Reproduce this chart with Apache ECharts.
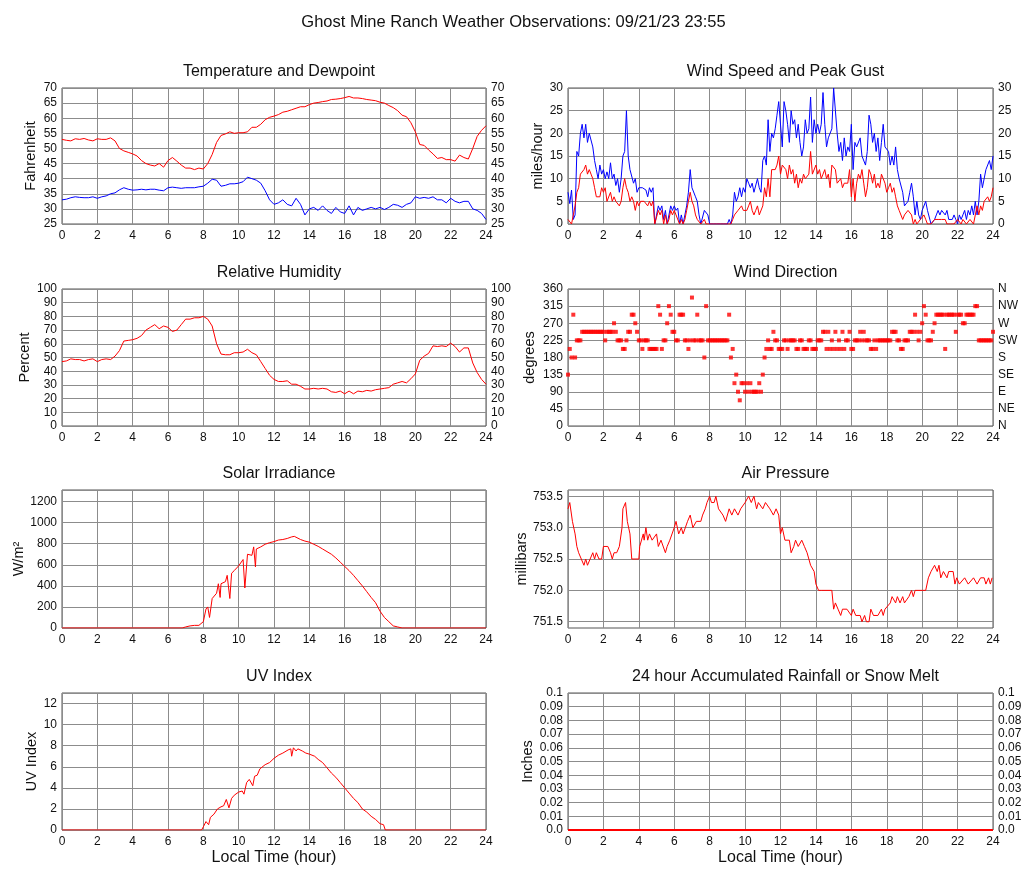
<!DOCTYPE html>
<html><head><meta charset="utf-8">
<script src="https://cdn.jsdelivr.net/npm/echarts@6/dist/echarts.min.js"></script>
<style>html,body{margin:0;padding:0;background:#fff}#c{width:1027px;height:878px}</style>
</head><body><div id="c"></div>
<script>
// ---- data ----
const hourTicks = [0,2,4,6,8,10,12,14,16,18,20,22,24];
const compassLabels = ['N','NE','E','SE','S','SW','W','NW','N'];
// 15-minute samples (hour 0.00 .. 24.00)
const temperature = [
 53,52.7,52.5,53.2, 53,53.3,52.8,52.5, 53.2,53,53,53.5, 52.5,50,49.2,48.7,
 48.2,47.5,46,45, 44.5,44.2,45,43.8, 46,47,45.8,44.5, 43.5,43.5,43,43.5,
 43.2,45,48,52, 54.3,54.8,55.5,55, 55.2,55.2,55.5,57, 57,58,59.5,60.3,
 60.7,61.2,62,62.3, 62.8,63.3,63.8,63.8, 64.5,65,65.2,65.5, 65.7,66.2,66.3,66.5,
 66.8,67.2,66.7,66.7, 66.5,66.2,66,65.8, 65.3,65,64.2,63.5, 62.5,61,60.5,58.5,
 55.5,51.3,51,49.5, 48.2,46.7,47,46.3, 46.3,45.8,47.8,47, 46.5,50,54,56, 57.5];
const dewpoint = [
 33,33.2,33.7,34, 33.8,33.7,33.7,34, 33.5,34,34.3,35, 35.3,36.3,37,36.5,
 36.2,36.3,36.5,36.3, 36.5,36.5,36.2,36, 37,37.2,37,36.8, 37,37,37,37.3,
 37.5,38.5,39.8,39.5, 37.5,37.8,38.3,38.3, 38.5,39,40.5,40, 39.5,38.5,36,33,
 31.5,32,33,31.5, 31,33.5,31.5,28, 30,30.5,29.5,31, 29.5,28.5,30.5,29,
 28.5,31,28,30.5, 29.5,30,30.5,30, 30.5,29.8,30.5,31.5, 31.2,30.5,31.5,32,
 34,33.5,33.8,33.5, 34,33,33,32, 33.5,32.5,32,32.5, 32.5,30,29.5,28.5, 26.5];
const humidity = [
 47,47.5,49,48.5, 48.5,47.5,48.5,49, 47,48.5,49,48.5, 51,55,62,62.5,
 63,64,66,70, 72,74,71,73, 72,69,70,74, 78,78,79,79,
 80,78,73,60, 52.5,52,52,53.5, 53.5,54,56,53.5, 52,47,42,37,
 34,32.5,32.5,33, 30.5,30.5,29,27, 27,27.5,27,27.5, 27,25,24.5,25.5,
 23.5,25.5,23.5,25.5, 25,26,25.5,26.5, 27,27.5,28,30.5, 31.5,32.5,31.5,34.5,
 38,48,51,53, 58.5,58,58.5,58, 60.5,58,54,57, 57,46,39,34, 30.5];
// 6-minute samples (hour 0.0 .. 24.0), one row per hour
const windSpeed = [
 1,1,0,0,4,7,8,11,11,12,
 13,11,12,11,10,8,6,6,6,8,
 7,8,5,5,7,5,6,5,5,4,
 5,8,10,8,7,5,6,5,3,5,
 4,5,5,5,5,4,5,4,5,0,
 0,3,2,3,0,2,0,1,3,2,
 3,2,2,0,1,0,1,3,5,7,
 5,4,2,1,1,0,0,1,0,0,
 0,0,0,0,0,0,0,0,0,0,
 0,0,0,1,2,2,3,3,4,3,
 3,3,4,5,3,2,3,4,2,2,
 4,8,6,10,6,12,12,12,13,15,
 11,13,13,12,10,13,11,12,9,11,
 8,10,9,11,10,10,11,16,11,11,
 13,11,12,10,11,12,10,11,8,13,
 13,12,9,9,10,8,9,9,9,12,
 6,10,5,9,11,10,12,9,6,8,
 12,11,9,11,8,9,8,11,10,9,
 7,8,9,7,8,6,4,3,3,1,
 2,2,3,3,2,0,1,0,0,1,
 1,2,1,0,0,0,0,1,1,1,
 1,1,1,1,0,0,0,0,0,0,
 1,1,0,1,1,0,0,1,1,0,
 0,4,2,4,3,5,5,6,5,6,
 8];
const windGust = [
 7,4.5,7.5,1,2,16,15,20,22,19,
 22,18,20,20,17,14,12,10,13,11,
 12,10,11.5,10,13.5,10,11,8.5,10,7,
 10,15,16,25,15,12,12,9,10,7,
 8,8,8,8,7.5,6,8,7,8,0,
 0,4,3,4,1,3,0,2,4,3,
 4,3,3.5,0,2,0,2,4,7,12,
 8,8,6,5,2,0,0,3,3,2,
 0,0,0,0,0,0,0,0,0,0,
 0,1,0,2,7,5,6,8,6,8,
 7,10,9,8,9,7,7,10,8,7,
 14,15,13,23,16,20,19,21,24,27,
 27,17,27,25,22,18,25,22,23,19,
 22,18,15,17,23,20,21,28,18,23,
 20,22,20,22,29,22,17,19,19,21,
 30,30,20,16,18,14,19,15,17,16,
 22,12,18,17,17,19,15,15,13,16,
 24,22,18,20,16,19,14,18,22,17,
 17,16,13,15,13,17,12,10,10,7,
 4,4,5,7,9,6,2,5,2,1,
 3,3,5,3,3,0,0,1,2,3,
 2,3,3,2,3,1,1,1,2,1,
 0,2,1,2,3,1,3,2,4,2,
 5,2,5,11,8,8,12,12,14,12,
 15];
const windDirection = [
 135,202.5,180,292.5,180,225,225,225,247.5,247.5,
 247.5,247.5,247.5,247.5,247.5,247.5,247.5,247.5,247.5,247.5,
 247.5,225,247.5,247.5,247.5,247.5,270,247.5,225,225,
 225,202.5,202.5,225,247.5,247.5,292.5,292.5,270,247.5,
 225,225,202.5,225,225,225,202.5,202.5,202.5,202.5,
 202.5,315,292.5,202.5,225,225,270,315,292.5,247.5,
 247.5,225,225,292.5,292.5,292.5,225,225,202.5,225,
 337.5,225,225,292.5,225,225,225,180,315,225,
 225,225,225,225,225,225,225,225,225,225,
 225,292.5,180,202.5,112.5,135,90,67.5,112.5,112.5,
 90,112.5,90,112.5,90,90,90,90,112.5,90,
 135,180,202.5,225,202.5,202.5,247.5,225,225,202.5,
 202.5,202.5,225,225,202.5,225,225,225,225,202.5,
 202.5,225,225,202.5,202.5,202.5,225,225,202.5,202.5,
 202.5,225,225,225,247.5,247.5,202.5,247.5,202.5,225,
 202.5,247.5,202.5,225,202.5,247.5,202.5,225,225,247.5,
 202.5,202.5,225,225,225,247.5,225,247.5,225,225,
 225,202.5,202.5,225,202.5,225,225,225,225,225,
 225,225,225,247.5,247.5,247.5,225,225,202.5,202.5,
 225,225,225,247.5,247.5,247.5,292.5,247.5,225,247.5,
 270,315,292.5,225,225,225,247.5,270,292.5,292.5,
 292.5,292.5,292.5,202.5,292.5,292.5,292.5,292.5,292.5,247.5,
 292.5,292.5,292.5,270,270,292.5,292.5,292.5,292.5,292.5,
 315,315,225,225,225,225,225,225,225,225,
 247.5];
// irregular readings: [hour, value]
const solarReadings = [[0,0],[6.8,0],[7,10],[7.25,20],[7.5,25],[7.75,25],[8,60],[8.15,180],[8.25,200],[8.35,100],
 [8.5,280],[8.75,330],[8.85,420],[8.95,290],[9,420],[9.25,440],[9.35,500],[9.5,280],[9.6,520],[9.75,545],
 [10,590],[10.25,650],[10.35,380],[10.5,700],[10.75,690],[10.85,770],[10.95,580],[11,750],[11.25,770],[11.5,795],
 [11.75,810],[12,820],[12.25,835],[12.5,840],[12.75,850],[13,865],[13.15,870],[13.5,840],[13.75,825],[14,815],
 [14.25,795],[14.5,775],[14.75,750],[15,725],[15.25,700],[15.5,665],[15.75,625],[16,585],[16.25,545],[16.5,500],
 [16.75,450],[17,400],[17.25,345],[17.5,290],[17.75,240],[18,160],[18.25,100],[18.5,60],[18.75,20],[19,10],[19.25,0],[24,0]];
const uvReadings = [[0,0],[7.9,0],[8,0.3],[8.15,0.8],[8.25,0.8],[8.3,0.5],[8.4,1.2],[8.6,1.5],[8.8,2],[9,2.2],
 [9.15,2.3],[9.3,2.9],[9.45,2.1],[9.6,3],[9.75,3.3],[10,3.6],[10.2,3.7],[10.3,3.4],[10.45,4.5],[10.6,4.8],
 [10.7,4.9],[10.8,4.2],[10.9,5.1],[11.05,5.2],[11.2,5.8],[11.5,6.2],[11.75,6.4],[12,6.8],[12.25,7.1],[12.5,7.3],
 [12.8,7.6],[12.95,7.7],[13,7.0],[13.1,7.8],[13.25,7.5],[13.35,7.7],[13.6,7.5],[13.8,7.3],[14,7.2],[14.3,7.0],
 [14.5,6.7],[14.75,6.4],[15,5.9],[15.25,5.4],[15.5,5.0],[15.75,4.5],[16,4.0],[16.25,3.5],[16.5,3.0],[16.75,2.6],
 [17,2.0],[17.25,1.7],[17.5,1.3],[17.75,1.0],[18,0.6],[18.2,0.5],[18.3,0],[24,0]];
const pressureReadings = [[0,753.3],[0.1,753.4],[0.25,753.1],[0.4,752.9],[0.5,752.7],[0.6,752.6],[0.75,752.5],[0.9,752.4],[1,752.5],[1.1,752.4],
 [1.25,752.5],[1.4,752.6],[1.5,752.5],[1.6,752.6],[1.75,752.5],[1.9,752.5],[2,752.7],[2.25,752.7],[2.4,752.6],[2.5,752.5],
 [2.6,752.6],[2.75,752.6],[2.9,752.7],[3.05,753.0],[3.1,753.3],[3.25,753.4],[3.35,753.1],[3.5,752.9],[3.6,752.5],[4,752.5],
 [4.05,752.7],[4.25,752.9],[4.3,752.8],[4.4,753.0],[4.5,752.8],[4.6,752.9],[4.75,752.8],[5,752.9],[5.1,752.7],[5.25,752.8],
 [5.5,752.6],[5.6,752.7],[5.75,752.8],[6,753.0],[6.1,753.1],[6.25,752.9],[6.4,753.0],[6.5,752.9],[6.75,753.1],[6.9,753.2],
 [7.05,753.0],[7.25,753.1],[7.5,753.1],[7.6,753.2],[7.75,753.3],[7.85,753.4],[8,753.5],[8.1,753.4],[8.25,753.4],[8.35,753.5],
 [8.5,753.3],[8.75,753.2],[8.9,753.1],[9.1,753.3],[9.25,753.2],[9.4,753.3],[9.6,753.2],[9.75,753.3],[10,753.4],[10.2,753.5],
 [10.35,753.4],[10.5,753.5],[10.65,753.3],[10.75,753.4],[11,753.3],[11.15,753.4],[11.4,753.3],[11.6,753.2],[11.75,753.3],[11.9,753.2],
 [12,752.9],[12.1,753.0],[12.25,752.8],[12.5,752.8],[12.6,752.6],[12.75,752.7],[12.85,752.8],[13,752.7],[13.2,752.8],[13.35,752.7],
 [13.5,752.6],[13.7,752.4],[13.9,752.3],[14,752.1],[14.15,752.0],[14.3,752.0],[14.9,752.0],[15,751.7],[15.1,751.8],[15.25,751.7],
 [15.4,751.6],[15.5,751.7],[15.75,751.7],[16,751.6],[16.1,751.7],[16.25,751.6],[16.5,751.6],[16.6,751.5],[16.75,751.6],[16.85,751.5],
 [17,751.5],[17.1,751.7],[17.25,751.6],[17.5,751.6],[17.7,751.7],[17.8,751.6],[17.9,751.7],[18,751.7],[18.2,751.8],[18.3,751.9],
 [18.5,751.8],[18.6,751.9],[18.75,751.8],[18.9,751.9],[19,751.8],[19.25,751.9],[19.4,752.0],[19.5,751.9],[19.6,752.0],[20,752.0],
 [20.2,752.0],[20.35,752.2],[20.5,752.3],[20.7,752.4],[20.85,752.3],[20.95,752.4],[21.05,752.2],[21.2,752.3],[21.4,752.2],[21.5,752.3],
 [21.75,752.3],[21.85,752.1],[21.95,752.2],[22.1,752.1],[22.4,752.2],[22.6,752.1],[22.9,752.2],[23.1,752.1],[23.3,752.2],[23.5,752.2],
 [23.6,752.1],[23.75,752.2],[23.85,752.1],[23.95,752.2]];
const pressureTicks = [751.5,752.0,752.5,753.0,753.5];
const rainfall = [0,0,0,0,0,0,0,0,0,0,0,0,0,0,0,0,0,0,0,0,0,0,0,0,0]; // hourly

// ---- helpers ----
const quarterHours = temperature.map((_, i) => i / 4);
const tenthHours = windSpeed.map((_, i) => i / 10);
const wholeHours = rainfall.map((_, i) => i);
const zip = (xs, ys) => xs.map((x, i) => [x, ys[i]]);

const FONT = "'Liberation Sans', Arial, Helvetica, sans-serif";
const GRIDC = '#8c8c8c';
const grids = [
  {left:62, top:88, width:424, height:136},
  {left:568, top:88, width:425, height:136},
  {left:62, top:289, width:424, height:137},
  {left:568, top:289, width:425, height:137},
  {left:62, top:490, width:424, height:138},
  {left:568, top:490, width:425, height:138},
  {left:62, top:693, width:424, height:137},
  {left:568, top:693, width:425, height:137}
].map(g => Object.assign({show:true, borderColor:'#555', borderWidth:1, backgroundColor:'transparent', containLabel:false}, g));

const panelTitles = ['Temperature and Dewpoint','Wind Speed and Peak Gust','Relative Humidity','Wind Direction',
  'Solar Irradiance','Air Pressure','UV Index','24 hour Accumulated Rainfall or Snow Melt'];

const xAxes = grids.map((g, i) => ({
  type:'value', gridIndex:i, min:0, max:24, interval:2,
  axisLine:{show:false}, axisTick:{show:false},
  axisLabel:{color:'#111', fontSize:12, fontFamily:FONT, margin:6},
  splitLine:{show:true, lineStyle:{color:GRIDC, width:1}},
  name: i >= 6 ? 'Local Time (hour)' : '', nameLocation:'middle', nameGap:20,
  nameTextStyle:{color:'#111', fontSize:16, fontFamily:FONT}
}));

function yAx(i, o, right) {
  const base = {
    type:'value', gridIndex:i, position: right ? 'right' : 'left',
    axisLine:{show:false}, axisTick:{show:false},
    axisLabel:Object.assign({color:'#111', fontSize:12, fontFamily:FONT, margin:5}, o.label || {}),
    splitLine:{show:!right, lineStyle:{color:GRIDC, width:1}},
    min:o.min, max:o.max
  };
  if (o.interval !== undefined) base.interval = o.interval;
  if (!right && o.name) {
    base.name = o.name; base.nameLocation = 'middle'; base.nameGap = o.gap;
    base.nameTextStyle = {color:'#111', fontSize:14.5, fontFamily:FONT};
  }
  if (o.extra) Object.assign(base, o.extra);
  return base;
}
const rainFmt = v => v === 0 ? '0.0' : String(+v.toFixed(2));
const yDefs = [
  {min:25, max:70, interval:5, name:'Fahrenheit', gap:24, both:true},
  {min:0, max:30, interval:5, name:'miles/hour', gap:22, both:true},
  {min:0, max:100, interval:10, name:'Percent', gap:30, both:true},
  {min:0, max:360, interval:45, name:'degrees', gap:31, both:true, rightLabel:{formatter: v => compassLabels[Math.round(v/45)]}},
  {min:0, max:1310, interval:200, name:'W/m²', gap:34, label:{showMaxLabel:false, formatter: v => String(v)}},
  {min:751.4, max:753.6, name:'millibars', gap:37,
    label:{customValues:pressureTicks, formatter: v => v.toFixed(1)},
    extra:{axisTick:{show:false, customValues:pressureTicks}}},
  {min:0, max:13, interval:2, name:'UV Index', gap:23, label:{showMaxLabel:false}},
  {min:0, max:0.1, interval:0.01, name:'Inches', gap:32, both:true, label:{formatter:rainFmt}, rightLabel:{formatter:rainFmt}}
];
const yAxes = [];
const yIndexOf = [];
yDefs.forEach((d, i) => {
  yIndexOf.push(yAxes.length);
  yAxes.push(yAx(i, d, false));
  if (d.both) yAxes.push(yAx(i, Object.assign({}, d, {label: d.rightLabel || d.label}), true));
});

const line = (i, data, color) => ({type:'line', xAxisIndex:i, yAxisIndex:yIndexOf[i], data, showSymbol:false,
  symbol:'none', lineStyle:{color, width:1}, itemStyle:{color}, animation:false, silent:true});

const series = [
  line(0, zip(quarterHours, dewpoint), '#0000ff'),
  line(0, zip(quarterHours, temperature), '#ff0000'),
  line(1, zip(tenthHours, windGust), '#0000ff'),
  line(1, zip(tenthHours, windSpeed), '#ff0000'),
  line(2, zip(quarterHours, humidity), '#ff0000'),
  {type:'scatter', xAxisIndex:3, yAxisIndex:yIndexOf[3], data:zip(tenthHours, windDirection),
    symbol:'rect', symbolSize:4, itemStyle:{color:'#ff0000'}, animation:false, silent:true},
  line(4, solarReadings, '#ff0000'),
  line(5, pressureReadings, '#ff0000'),
  line(6, uvReadings, '#ff0000'),
  Object.assign(line(7, zip(wholeHours, rainfall), '#ff0000'), {lineStyle:{color:'#ff0000', width:2}})
];

const titles = [{text:'Ghost Mine Ranch Weather Observations: 09/21/23 23:55', left:'center', top:9,
  textStyle:{fontSize:16.5, fontWeight:'normal', color:'#111', fontFamily:FONT}}];
panelTitles.forEach((t, i) => {
  const g = grids[i];
  titles.push({text:t, left:g.left + g.width/2, top:g.top - 29, textAlign:'center',
    textStyle:{fontSize:16, fontWeight:'normal', color:'#111', fontFamily:FONT}});
});

const chart = echarts.init(document.getElementById('c'), null, {renderer:'canvas'});
chart.setOption({animation:false, backgroundColor:'#fff', title:titles, grid:grids, xAxis:xAxes, yAxis:yAxes, series});
</script></body></html>
